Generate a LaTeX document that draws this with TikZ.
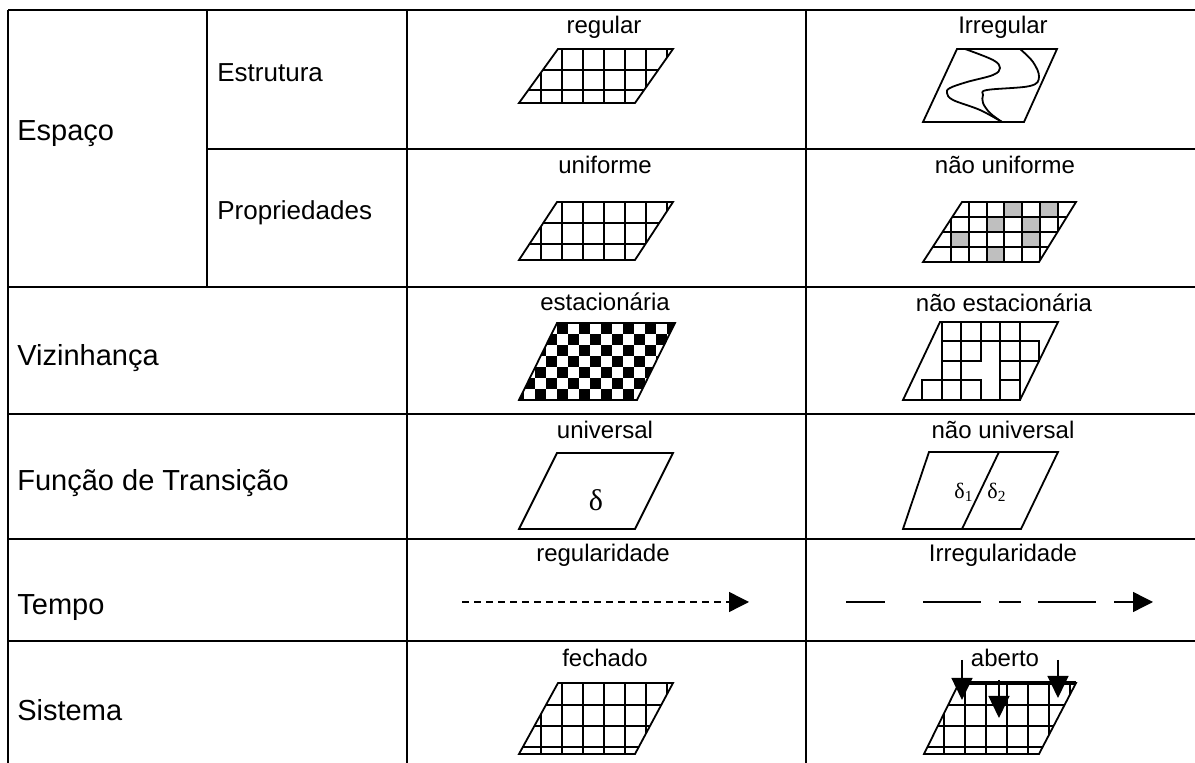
\documentclass[tikz,border=0pt]{standalone}
\usepackage{fontspec}
\setmainfont{Liberation Sans}
\newfontfamily\greekserif{Liberation Serif}
\usetikzlibrary{arrows.meta}

\begin{document}
\begin{tikzpicture}[
			x=0.5pt, y=-0.5pt,
			rule/.style={line width=1.3pt},
			rowlabel/.style={anchor=west, inner sep=0pt, font=\fontsize{14.5}{17}\selectfont},
			sublabel/.style={anchor=west, inner sep=0pt, font=\fontsize{13}{15}\selectfont},
			header/.style={inner sep=0pt, font=\fontsize{12}{14}\selectfont},
			plate/.style={line width=0.9pt},
			gridline/.style={line width=1pt},
			timearrow/.style={-{Triangle[length=10pt,width=10pt]}, line width=0.7pt},
			droparrow/.style={-{Triangle[length=11pt,width=10.5pt]}, line width=0.7pt},
			greek/.style={inner sep=0pt, font=\greekserif\fontsize{11}{13}\selectfont} % delta labels
			]
			\useasboundingbox (0,0) rectangle (1195,763);
			% table rules
			\draw[rule] (8,10) -- (1195,10);
			\draw[rule] (207,149) -- (1195,149);
			\foreach \ry in {287,414,539,641} \draw[rule] (8,\ry) -- (1195,\ry);
			\foreach \cx in {8,407,806} \draw[rule] (\cx,10) -- (\cx,763);
			\draw[rule] (207,10) -- (207,287);
			
			% row labels
			\node[rowlabel] (espaco) at (17,134) {Espaço};
			\node[sublabel] (estrutura) at (217,73) {Estrutura};
			\node[sublabel] (propriedades) at (217,213) {Propriedades};
			\node[rowlabel] (vizinhanca) at (17,358) {Vizinhança};
			\node[rowlabel] (funcao) at (17,483) {Função de Transição};
			\node[rowlabel] (tempo) at (17,608) {Tempo};
			\node[rowlabel] (sistema) at (17,710) {Sistema};
			
			% column headers
			\node[header] (regular) at (604,27) {regular};
			\node[header] (irregular) at (1003,27) {Irregular};
			\node[header] (uniforme) at (605,165) {uniforme};
			\node[header] (naouniforme) at (1005,165) {não uniforme};
			\node[header] (estacionaria) at (605,302) {estacionária};
			\node[header] (naoestacionaria) at (1004,303) {não estacionária};
			\node[header] (universal) at (605,430) {universal};
			\node[header] (naouniversal) at (1003,430) {não universal};
			\node[header] (regularidade) at (603,555) {regularidade};
			\node[header] (irregularidade) at (1003,555) {Irregularidade};
			\node[header] (fechado) at (605,658) {fechado};
			\node[header] (aberto) at (1005,658) {aberto};
			
			% regular
			\begin{scope}
				\clip (558,49) -- (673,49) -- (635,103) -- (519,103) -- cycle;
				\foreach \gx in {541,562,...,667} \draw[gridline] (\gx,40) -- (\gx,110);
				\foreach \gy in {70,90} \draw[gridline] (500,\gy) -- (700,\gy);
			\end{scope}
			\draw[plate] (558,49) -- (673,49) -- (635,103) -- (519,103) -- cycle;
			
			% irregular
			\draw[plate] (957,49) -- (1057,49) -- (1024,122) -- (923,122) -- cycle;
			\draw[plate] plot[smooth, tension=0.6] coordinates {(965,49) (993,60) (1000,68) (993,75) (967,82) (950,88) (947,93) (953,100) (980,110) (1002,122)};
			\draw[plate] plot[smooth, tension=0.6] coordinates {(1020,49) (1033,62) (1039,77) (1030,86) (987,90) (983,95) (983,103) (990,113) (1002,122)};
			
			% uniforme
			\begin{scope}
				\clip (557,202) -- (673,202) -- (635,260) -- (519,260) -- cycle;
				\foreach \gx in {541,562,...,667} \draw[gridline] (\gx,195) -- (\gx,265);
				\foreach \gy in {223,244} \draw[gridline] (500,\gy) -- (700,\gy);
			\end{scope}
			\draw[plate] (557,202) -- (673,202) -- (635,260) -- (519,260) -- cycle;
			
			% nao uniforme
			\begin{scope}
				\clip (962,202) -- (1076,202) -- (1039,262) -- (923,262) -- cycle;
				\foreach \r/\c in {0/3,0/5,1/2,1/4,2/0,2/4,3/2}
					\fill[black!25] ({951+17.8*\c},{202+15*\r}) rectangle +(17.8,15);
				\foreach \c in {0,...,6} \draw[gridline] ({951+17.8*\c},195) -- ({951+17.8*\c},270);
				\foreach \gy in {217,232,247} \draw[gridline] (900,\gy) -- (1100,\gy);
			\end{scope}
			\draw[plate] (962,202) -- (1076,202) -- (1039,262) -- (923,262) -- cycle;
			
			% estacionaria
			\begin{scope}
				\clip (557,323) -- (675,323) -- (637,400) -- (519,400) -- cycle;
				\foreach \j in {0,...,6}
					\foreach \i in {-4,-2,...,10}
						\fill ({557+11*(\i+mod(\j,2))},{323+11*\j}) rectangle +(11,11);
			\end{scope}
			\draw[plate] (557,323) -- (675,323) -- (637,400) -- (519,400) -- cycle;
			
			% nao estacionaria
			\draw[plate] (940,322) -- (1058,322) -- (1020,400) -- (903,400) -- cycle;
			\foreach \r/\c in {0/1,0/2,0/3,0/4,1/1,1/2,1/4,1/5,2/1,2/4,3/0,3/1,3/2,3/4}
				\draw[gridline] ({922+19.5*\c},{322+19.5*\r}) rectangle +(19.5,19.5);
			
			% universal
			\draw[plate] (557,453) -- (673,453) -- (635,529) -- (519,529) -- cycle;
			\node[greek, font=\greekserif\fontsize{15}{17}\selectfont] (delta) at (596,500) {δ};
			
			% nao universal
			\draw[plate] (929,452) -- (1058,452) -- (1021,529) -- (903,529) -- cycle;
			\draw[plate] (999,452) -- (962,529);
			\node[greek] (deltaone) at (964,492) {δ\textsubscript{1}};
			\node[greek] (deltatwo) at (997,492) {δ\textsubscript{2}};
			
			% tempo
			\coordinate (regstart) at (462,602);
			\coordinate (regend) at (749,602);
			\draw[timearrow, dash pattern=on 3.5pt off 2.5pt] (regstart) -- (regend);
			\coordinate (irrstart) at (846,602);
			\coordinate (irrend) at (1153,602);
			\draw[timearrow, dash pattern=on 19.5pt off 19pt on 29pt off 9pt on 11pt off 8.5pt on 29pt off 9pt on 20pt] (irrstart) -- (irrend);
			
			% fechado
			\begin{scope}
				\clip (558,683) -- (673,683) -- (635,754) -- (519,754) -- cycle;
				\foreach \gx in {541,562,...,667} \draw[gridline] (\gx,675) -- (\gx,760);
				\foreach \gy in {705,726,747} \draw[gridline] (500,\gy) -- (700,\gy);
			\end{scope}
			\draw[plate] (558,683) -- (673,683) -- (635,754) -- (519,754) -- cycle;
			
			% aberto
			\begin{scope}
				\clip (959,683) -- (1076,683) -- (1039,754) -- (924,754) -- cycle;
				\foreach \gx in {944,965,...,1070} \draw[gridline] (\gx,675) -- (\gx,760);
				\foreach \gy in {705,726,747} \draw[gridline] (900,\gy) -- (1100,\gy);
			\end{scope}
			\draw[plate] (959,683) -- (1076,683) -- (1039,754) -- (924,754) -- cycle;
			\draw[line width=1.6pt] (959,683) -- (1076,683);
			\coordinate (inone) at (962,660);
			\coordinate (outone) at (962,700);
			\coordinate (intwo) at (999,680);
			\coordinate (outtwo) at (999,718);
			\coordinate (inthree) at (1058,660);
			\coordinate (outthree) at (1058,698);
			\draw[droparrow] (inone) -- (outone);
			\draw[droparrow] (intwo) -- (outtwo);
			\draw[droparrow] (inthree) -- (outthree);
		\end{tikzpicture}
\end{document}
